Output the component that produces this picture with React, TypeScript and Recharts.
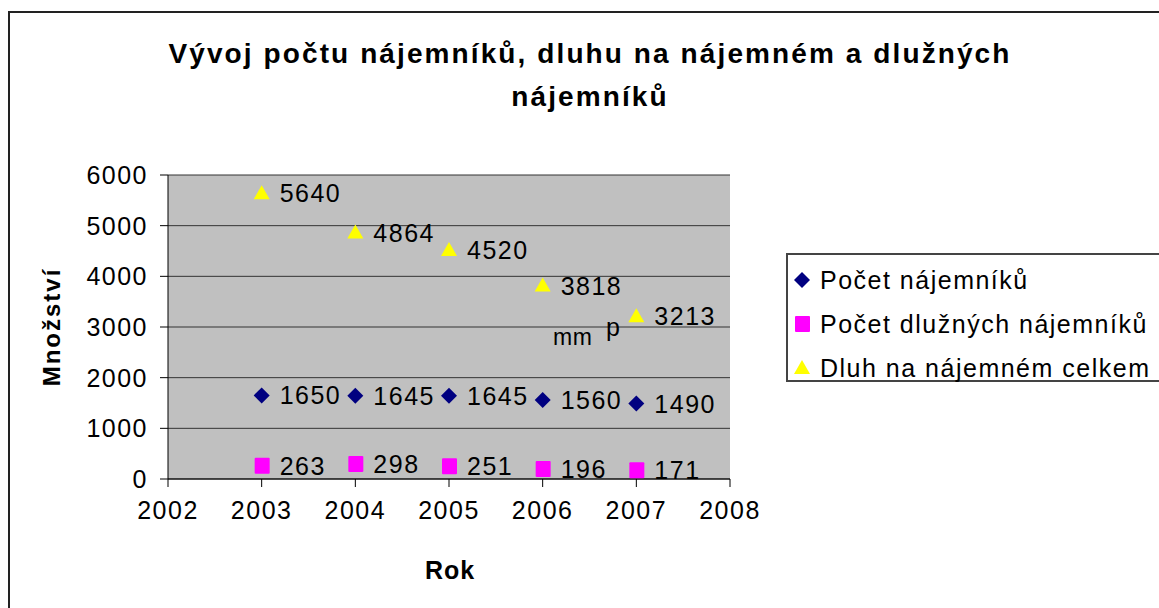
import { ScatterChart, Scatter, XAxis, YAxis, CartesianGrid } from 'recharts';

const years = [2003, 2004, 2005, 2006, 2007];
const tenants = [1650, 1645, 1645, 1560, 1490];
const debtors = [263, 298, 251, 196, 171];
const debt = [5640, 4864, 4520, 3818, 3213];
const xTicks = [2002, 2003, 2004, 2005, 2006, 2007, 2008];
const yTicks = [0, 1000, 2000, 3000, 4000, 5000, 6000];

const FONT = '"Liberation Sans", Arial, sans-serif';
const txt = { fontFamily: FONT, fontSize: 25, letterSpacing: 1.5, fill: '#000' };

const toPoints = (vals: number[]) => years.map((x, i) => ({ x, y: vals[i] }));

// marker drawers, used by the scatter shapes and the legend
const diamond = (cx: number, cy: number, c: string) => (
    <polygon points={`${cx},${cy - 8} ${cx + 8},${cy} ${cx},${cy + 8} ${cx - 8},${cy}`} fill={c} />
);
const square = (cx: number, cy: number, c: string) => (
    <rect x={cx - 7} y={cy - 8} width={15} height={16} rx={1} fill={c} />
);
const triangle = (cx: number, cy: number, c: string) => (
    <polygon points={`${cx},${cy - 8} ${cx + 8},${cy + 6} ${cx - 8},${cy + 6}`} fill={c} />
);

const series = [
    { name: 'Počet nájemníků', data: toPoints(tenants), color: '#000080', draw: diamond },
    { name: 'Počet dlužných nájemníků', data: toPoints(debtors), color: '#FF00FF', draw: square },
    { name: 'Dluh na nájemném celkem', data: toPoints(debt), color: '#FFFF00', draw: triangle },
];

const makeShape = (s: typeof series[number]) => (p: any) => (
    <g>
        {s.draw(p.cx, p.cy, s.color)}
        <text x={p.cx + 18} y={p.cy} dominantBaseline="central" {...txt}>{p.payload.y}</text>
    </g>
);

const LegendBox = () => (
    <div style={{ position: 'absolute', left: 786, top: 253, border: '2px solid #444', borderRight: 'none', background: '#fff', height: 129, width: 400, boxSizing: 'border-box', paddingTop: 3 }}>
        {series.map((s) => (
            <div key={s.name} style={{ display: 'flex', alignItems: 'center', height: 44 }}>
                <svg width={30} height={24} style={{ marginLeft: 2 }}>{s.draw(12, 12, s.color)}</svg>
                <span style={{ fontFamily: FONT, fontSize: 25, letterSpacing: 1.5, color: '#000' }}>{s.name}</span>
            </div>
        ))}
    </div>
);

export default function App() {
    return (
        <div style={{ position: 'absolute', left: 0, top: 0, width: 1159, height: 608, overflow: 'hidden', background: '#fff' }}>
            <div style={{ position: 'absolute', left: 8, top: 11, width: 1300, height: 800, border: '2px solid #222' }} />
            <div style={{ position: 'absolute', left: 0, top: 32, width: 1180, textAlign: 'center', fontFamily: FONT, fontWeight: 'bold', fontSize: 28, letterSpacing: 2.1, lineHeight: '43px' }}>
                Vývoj počtu nájemníků, dluhu na nájemném a dlužných<br />nájemníků
            </div>
            <div style={{ position: 'absolute', left: 52, top: 327, transform: 'translate(-50%, -50%) rotate(-90deg)', fontFamily: FONT, fontWeight: 'bold', fontSize: 24, letterSpacing: 2, whiteSpace: 'nowrap' }}>
                Množství
            </div>
            <div style={{ position: 'absolute', left: 450, top: 570, transform: 'translate(-50%, -50%)', fontFamily: FONT, fontWeight: 'bold', fontSize: 25, letterSpacing: 1 }}>
                Rok
            </div>
            <div style={{ position: 'absolute', left: 0, top: 0 }}>
                <ScatterChart width={1159} height={608} margin={{ top: 175, right: 429, bottom: 0, left: 0 }}>
                    <CartesianGrid yAxisId="l" vertical={false} stroke="#333" fill="#C0C0C0" />
                    <XAxis type="number" dataKey="x" domain={[2002, 2008]} ticks={xTicks} height={129}
                        stroke="#000" tickSize={8} tickMargin={14} tick={txt} allowDataOverflow />
                    <YAxis yAxisId="l" type="number" dataKey="y" domain={[0, 6000]} ticks={yTicks} width={168}
                        stroke="#000" tickSize={8} tickMargin={12} tick={txt} interval={0} />
                    <YAxis yAxisId="r" orientation="right" type="number" domain={[0, 6000]} width={0}
                        tick={false} tickLine={false} stroke="#808080" strokeWidth={2} />
                    {series.map((s) => (
                        <Scatter key={s.name} yAxisId="l" name={s.name} data={s.data} fill={s.color}
                            shape={makeShape(s)} isAnimationActive={false} />
                    ))}
                </ScatterChart>
            </div>
            <LegendBox />
            <svg style={{ position: 'absolute', left: 0, top: 0 }} width={1159} height={608} pointerEvents="none">
                <text x={553} y={345} fontFamily={FONT} fontSize={23} letterSpacing={0.5}>mm</text>
                <text x={606} y={336} fontFamily={FONT} fontSize={25}>p</text>
            </svg>
        </div>
    );
}
